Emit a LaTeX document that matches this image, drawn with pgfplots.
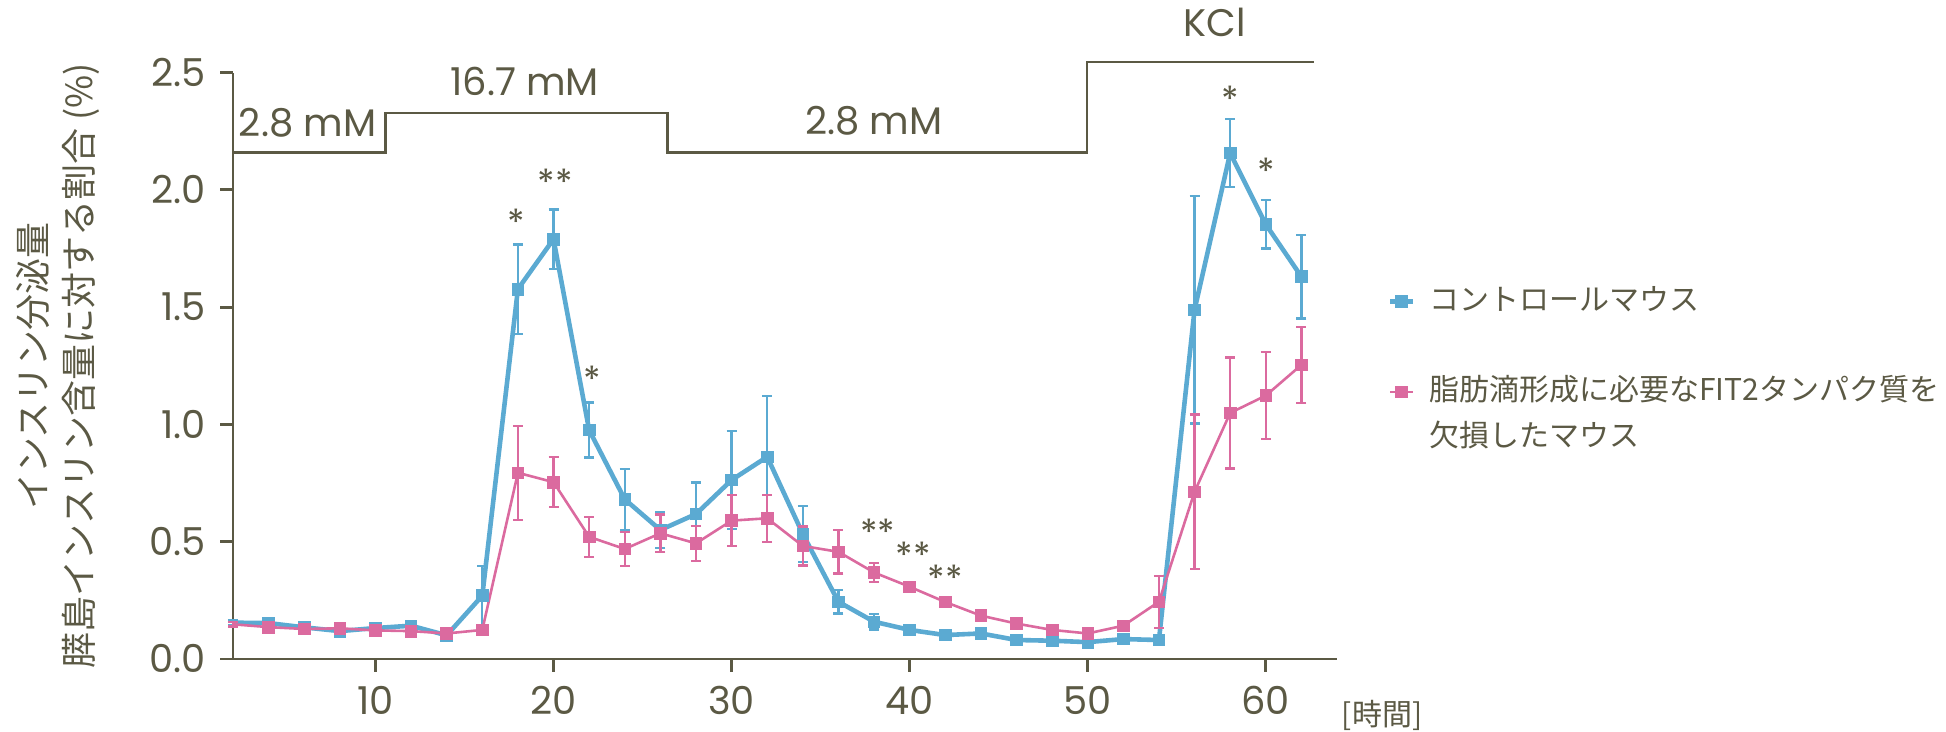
\documentclass[border=0pt]{standalone}
\usepackage{fontspec}
\setmainfont{Poppins}
\newfontfamily\jp{Noto Sans CJK JP}
\usepackage{pgfplots}
\usepackage{pgfplotstable}
\pgfplotsset{compat=1.18}
\definecolor{txt}{HTML}{5B5944}
\definecolor{ctrl}{HTML}{5BAAD2}
\definecolor{ko}{HTML}{DB6A9F}

% control mice: time, mean, error
\pgfplotstableread{
x y e
2 0.155 0.01
4 0.153 0.01
6 0.135 0.01
8 0.119 0.01
10 0.132 0.01
12 0.142 0.01
14 0.101 0.01
16 0.270 0.126
18 1.577 0.19
20 1.790 0.126
22 0.976 0.117
24 0.681 0.13
26 0.550 0.076
28 0.618 0.135
30 0.763 0.21
32 0.862 0.26
34 0.533 0.12
36 0.244 0.05
38 0.159 0.033
40 0.124 0.012
42 0.102 0.01
44 0.109 0.01
46 0.081 0.01
48 0.078 0.01
50 0.072 0.01
52 0.085 0.01
54 0.081 0.01
56 1.489 0.485
58 2.157 0.146
60 1.853 0.103
62 1.630 0.178
}\ctrldata

% FIT2 knockout mice
\pgfplotstableread{
x y e
2 0.148 0.01
4 0.136 0.01
6 0.128 0.01
8 0.131 0.01
10 0.122 0.01
12 0.119 0.01
14 0.109 0.01
16 0.124 0.01
18 0.794 0.2
20 0.754 0.107
22 0.521 0.085
24 0.469 0.073
26 0.536 0.08
28 0.493 0.075
30 0.590 0.108
32 0.600 0.10
34 0.482 0.083
36 0.457 0.092
38 0.369 0.04
40 0.308 0.012
42 0.243 0.01
44 0.185 0.01
46 0.151 0.01
48 0.124 0.01
50 0.109 0.01
52 0.142 0.01
54 0.244 0.111
56 0.713 0.33
58 1.049 0.237
60 1.123 0.185
62 1.254 0.162
}\kodata

\begin{document}
\begin{tikzpicture}
\begin{axis}[
    scale only axis,
    width=276pt, height=146.6pt,
    xmin=2, xmax=64,
    ymin=0, ymax=2.5,
    axis x line*=bottom, axis y line*=left,
    axis line style={-, line width=0.7pt, txt},
    xtick={10,20,30,40,50,60},
    ytick={0,0.5,1,1.5,2,2.5},
    tick align=outside,
    major tick length=3.2pt,
    tick style={line width=0.7pt, txt},
    /pgf/number format/assume math mode=true,
    yticklabel style={/pgf/number format/fixed, /pgf/number format/fixed zerofill, /pgf/number format/precision=1},
    ticklabel style={font=\fontsize{9.6}{11}\selectfont, text=txt},
    ylabel={インスリン分泌量\\膵島インスリン含量に対する割合 (\%)},
    ylabel style={at={(axis description cs:-0.1585,0.5)}, anchor=center, align=center,
        font=\jp\fontsize{9}{11.5}\selectfont, text=txt},
    xlabel={[時間]},
    xlabel style={at={(axis description cs:1.0408,-0.097)}, anchor=center,
        font=\jp\fontsize{7.5}{9}\selectfont, text=txt},
    clip=false,
    legend cell align=left,
    legend style={at={(axis description cs:1.0453,0.494)}, anchor=west,
        draw=none, fill=none, inner sep=0pt, row sep=3.8pt,
        nodes={inner sep=0pt, text height=6pt, text depth=1.5pt,
            font=\jp\fontsize{7.5}{9}\selectfont, text=txt},
        /tikz/every odd column/.append style={column sep=3.5pt}},
    legend image code/.code={
        \draw[mark repeat=2, mark phase=2, #1] plot coordinates {(0,0) (0.1cm,0) (0.2cm,0)};},
]
\addplot[ctrl, line width=1.15pt, mark=square*, mark size=1.45pt,
    mark options={line width=0.2pt}, mark repeat=1, mark phase=2,
    error bars/.cd, y dir=both, y explicit,
    error bar style={line width=0.58pt},
    error mark options={rotate=90, mark size=1.25pt, line width=0.58pt}]
    table[x=x, y=y, y error=e] {\ctrldata};
\addlegendentry{コントロールマウス}
\addlegendimage{empty legend}
\addlegendentry{}
\addplot[ko, line width=0.65pt, mark=square*, mark size=1.45pt,
    mark options={line width=0.2pt}, mark repeat=1, mark phase=2,
    error bars/.cd, y dir=both, y explicit,
    error bar style={line width=0.58pt},
    error mark options={rotate=90, mark size=1.25pt, line width=0.58pt}]
    table[x=x, y=y, y error=e] {\kodata};
\addlegendentry{脂肪滴形成に必要なFIT2タンパク質を}
\addlegendimage{empty legend}
\addlegendentry{欠損したマウス}

% stimulus steps
\draw[txt, line width=0.65pt] (axis cs:2,2.159) -- (axis cs:10.57,2.159) -- (axis cs:10.57,2.328)
    -- (axis cs:26.39,2.328) -- (axis cs:26.39,2.159) -- (axis cs:49.96,2.159)
    -- (axis cs:49.96,2.545) -- (axis cs:62.7,2.545);
\begin{scope}[every node/.style={text=txt, font=\fontsize{9.6}{11}\selectfont}]
\node at (axis cs:6.19,2.288) {2.8 mM};
\node at (axis cs:18.38,2.461) {16.7 mM};
\node at (axis cs:37.99,2.296) {2.8 mM};
\node at (axis cs:57.15,2.715) {KCl};
\end{scope}
% significance marks
\begin{scope}[every node/.style={text=txt, font=\fontsize{9}{10}\selectfont, inner sep=0pt}]
\node at (axis cs:17.9,1.86) {*};
\node at (axis cs:20.1,2.031) {**};
\node at (axis cs:22.2,1.193) {*};
\node at (axis cs:38.2,0.54) {**};
\node at (axis cs:40.2,0.444) {**};
\node at (axis cs:42.0,0.344) {**};
\node at (axis cs:58.0,2.386) {*};
\node at (axis cs:60.0,2.078) {*};
\end{scope}
\end{axis}
\pgfresetboundingbox
\useasboundingbox (-58.25pt,-18pt) rectangle (428.25pt,164.75pt);
\end{tikzpicture}
\end{document}
